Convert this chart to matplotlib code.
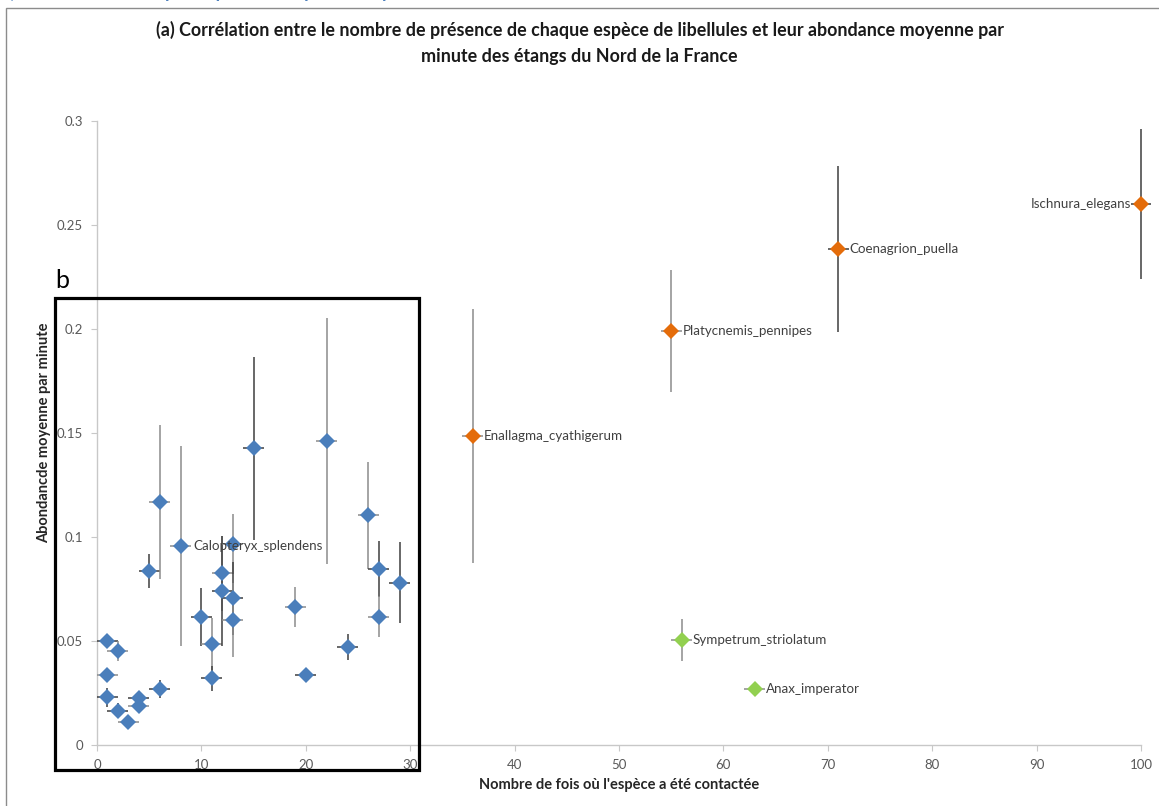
import matplotlib
matplotlib.use("Agg")
import matplotlib.pyplot as plt
from matplotlib.patches import Rectangle

plt.rcParams['font.family'] = ['Lato', 'DejaVu Sans']

# ---- data ----
blue_x = [1, 1, 1, 2, 2, 3, 4, 4, 5, 6, 6, 8, 10, 11, 11, 12, 12, 13, 13, 13,
          15, 19, 20, 22, 24, 26, 27, 27, 29]
blue_y = [0.0502, 0.0335, 0.0229, 0.0452, 0.0165, 0.0112, 0.0224, 0.0188, 0.0838,
          0.1167, 0.0269, 0.0958, 0.0617, 0.0486, 0.0322, 0.0825, 0.0742, 0.0965,
          0.0705, 0.0601, 0.1426, 0.0665, 0.0335, 0.1462, 0.0470, 0.1104, 0.0845,
          0.0617, 0.0780]
blue_yerr = [0.0, 0.0, 0.0044, 0.0048, 0.0036, 0.0027, 0.0036, 0.0036, 0.0082,
             0.037, 0.0045, 0.048, 0.014, 0.0125, 0.006, 0.018, 0.0265, 0.0145,
             0.0175, 0.018, 0.044, 0.0096, 0.0, 0.059, 0.0063, 0.0256, 0.0135,
             0.010, 0.0195]
blue_labels = {11: 'Calopteryx_splendens'}

orange_names = ['Enallagma_cyathigerum', 'Platycnemis_pennipes',
                'Coenagrion_puella', 'Ischnura_elegans']
orange_x = [36, 55, 71, 100]
orange_y = [0.1486, 0.1990, 0.2384, 0.2601]
orange_yerr = [0.061, 0.0295, 0.040, 0.036]

green_names = ['Sympetrum_striolatum', 'Anax_imperator']
green_x = [56, 63]
green_y = [0.0505, 0.0269]
green_yerr = [0.010, 0.0015]

x_err = 1.0

title = ("(a) Corrélation entre le nombre de présence de chaque espèce de libellules "
         "et leur abondance moyenne par\nminute des étangs du Nord de la France")
xlabel = "Nombre de fois où l'espèce a été contactée"
ylabel = "Abondancde moyenne par minute"
yticks = [0, 0.05, 0.1, 0.15, 0.2, 0.25, 0.3]
ytick_labels = ['0', '0.05', '0.1', '0.15', '0.2', '0.25', '0.3']
xticks = list(range(0, 101, 10))

# ---- figure ----
W, H = 1159, 806
fig = plt.figure(figsize=(W / 100, H / 100), dpi=100)
ax = fig.add_axes([97 / W, 1 - 745 / H, (1141 - 97) / W, (745 - 121) / H])

blue_c = '#4a7ebb'
orange_c = '#e46c0a'
green_c = '#92d050'
dark_err = '#3f3f3f'
grey_err = '#8c8c8c'

def draw(xs, ys, yerrs, color, ecolors):
    for xv, yv, ev, ec in zip(xs, ys, yerrs, ecolors):
        ax.errorbar([xv], [yv], yerr=[ev] if ev > 0 else None, xerr=[x_err],
                    fmt='D', color=color, markersize=8, markeredgewidth=0,
                    ecolor=ec, elinewidth=1.1, capsize=3.5, capthick=1.1,
                    clip_on=False, zorder=3)

blue_ecols = [dark_err if i % 2 == 0 else grey_err for i in range(len(blue_x))]
draw(blue_x, blue_y, blue_yerr, blue_c, blue_ecols)
draw(orange_x, orange_y, orange_yerr, orange_c, [grey_err, grey_err, dark_err, dark_err])
draw(green_x, green_y, green_yerr, green_c, [grey_err, grey_err])

lab_kw = dict(fontsize=9.6, color='#404040', va='center', zorder=4)
for i, name in blue_labels.items():
    ax.annotate(name, (blue_x[i], blue_y[i]), xytext=(9, 0),
                textcoords='offset points', ha='left', **lab_kw)
for xv, yv, name in zip(orange_x, orange_y, orange_names):
    if xv >= 100:
        ax.annotate(name, (xv, yv), xytext=(-7, 0), textcoords='offset points',
                    ha='right', **lab_kw)
    else:
        ax.annotate(name, (xv, yv), xytext=(8, 0), textcoords='offset points',
                    ha='left', **lab_kw)
for xv, yv, name in zip(green_x, green_y, green_names):
    ax.annotate(name, (xv, yv), xytext=(8, 0), textcoords='offset points',
                ha='left', **lab_kw)

ax.set_xlim(0, 100)
ax.set_ylim(0, 0.3)
ax.set_xticks(xticks)
ax.set_xticklabels([str(t) for t in xticks])
ax.set_yticks(yticks)
ax.set_yticklabels(ytick_labels)
for s in ['top', 'right']:
    ax.spines[s].set_visible(False)
for s in ['left', 'bottom']:
    ax.spines[s].set_color('#c8c8c8')
    ax.spines[s].set_linewidth(1.0)
ax.tick_params(axis='both', direction='out', length=4, color='#c8c8c8',
               labelcolor='#595959', labelsize=9.5, pad=6)

ax.set_xlabel(xlabel, fontsize=10.5, fontweight='bold', color='#262626', labelpad=5)
ax.set_ylabel(ylabel, fontsize=10.5, fontweight='bold', color='#262626', labelpad=4)

fig.text(0.5, 1 - 43 / H, title, ha='center', va='center', fontsize=12.9,
         fontweight='bold', color='#1a1a1a', linespacing=1.62)

# outer chart frame
fig.patches.append(Rectangle((6 / W, -0.01), 1.2, 1 - 8 / H + 0.01,
                             transform=fig.transFigure, fill=False,
                             edgecolor='#8c8c8c', linewidth=1.0))
# cropped heading at very top (only its lower edge shows, as in the reference)
fig.text(0.0, 1 + 8 / H, "3) Corrélation des espèces pour la fréquence et pour l'abondance",
         ha='left', va='center', fontsize=13, fontweight='bold', color='#4f81bd')

# "b" box
fig.patches.append(Rectangle((55 / W, 1 - 770 / H), (419 - 55) / W, (770 - 298) / H,
                             transform=fig.transFigure, fill=False,
                             edgecolor='black', linewidth=2.3, zorder=10))
fig.text(55 / W, 1 - 281 / H, 'b', ha='left', va='center', fontsize=18, color='black')

fig.savefig('out.png', dpi=100)
